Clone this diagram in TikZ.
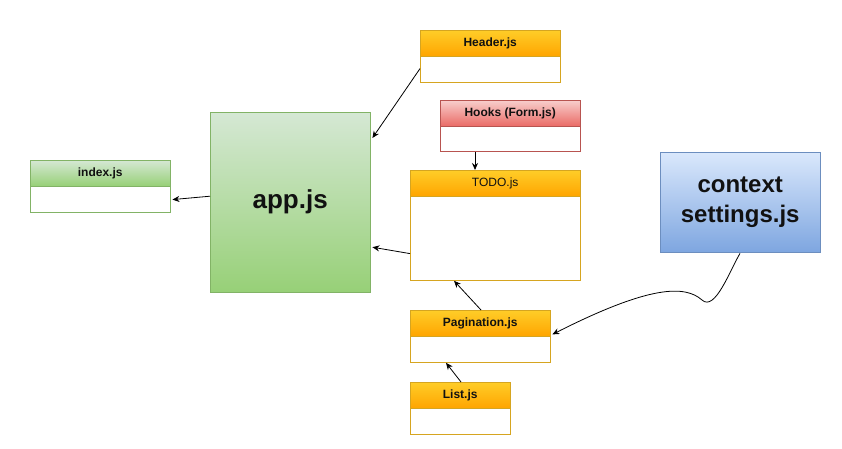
\documentclass[tikz,border=0pt]{standalone}
\usepackage{fontspec}
\setmainfont{Liberation Sans}
\usetikzlibrary{arrows.meta,calc}
\definecolor{grnTop}{HTML}{D5E8D4}
\definecolor{grnBot}{HTML}{97D077}
\definecolor{grnLine}{HTML}{82B366}
\definecolor{orTop}{HTML}{FFCD28}
\definecolor{orBot}{HTML}{FFA500}
\definecolor{orLine}{HTML}{D6A520}
\definecolor{redTop}{HTML}{F8CECC}
\definecolor{redBot}{HTML}{EA6B66}
\definecolor{redLine}{HTML}{B85450}
\definecolor{bluTop}{HTML}{DAE8FC}
\definecolor{bluBot}{HTML}{7EA6E0}
\definecolor{bluLine}{HTML}{6C8EBF}
\definecolor{ink}{HTML}{111111}
\tikzset{
  hdr/.style={anchor=north west, minimum height=26pt, inner sep=0pt,
    font=\fontsize{12}{14}\selectfont\bfseries, text=ink, draw},
  body/.style={anchor=north west, minimum height=#1, inner sep=0pt, draw, fill=white},
  green hdr/.style={hdr, draw=grnLine, top color=grnTop, bottom color=grnBot},
  orange hdr/.style={hdr, draw=orLine, top color=orTop, bottom color=orBot},
  red hdr/.style={hdr, draw=redLine, top color=redTop, bottom color=redBot},
  link/.style={draw=black, line width=0.8pt, -{Stealth[length=7pt,width=6pt]}}
}
\begin{document}
\begin{tikzpicture}[x=1pt,y=-1pt]
\useasboundingbox (0,0) rectangle (842,449);
\fill[white] (0,0) rectangle (842,449);

% index.js
\node[green hdr, minimum width=140pt] (idxh) at (30,160) {index.js};
\node[body=26pt, draw=grnLine, minimum width=140pt] (idxb) at (idxh.south west) {};

% app.js
\node[anchor=north west, minimum width=160pt, minimum height=180pt, draw=grnLine,
  top color=grnTop, bottom color=grnBot, text=ink,
  font=\fontsize{26}{30}\selectfont\bfseries] (app) at (210,112) {app.js};

% Header.js
\node[orange hdr, minimum width=140pt] (hdrh) at (420,30) {Header.js};
\node[body=26pt, draw=orLine, minimum width=140pt] (hdrb) at (hdrh.south west) {};

% Hooks (Form.js)
\node[red hdr, minimum width=140pt] (hookh) at (440,100) {Hooks (Form.js)};
\node[body=25pt, draw=redLine, minimum width=140pt] (hookb) at (hookh.south west) {};

% TODO.js
\node[orange hdr, minimum width=170pt, font=\fontsize{12}{14}\selectfont] (todoh) at (410,170) {TODO.js};
\node[body=84pt, draw=orLine, minimum width=170pt] (todob) at (todoh.south west) {};

% Pagination.js
\node[orange hdr, minimum width=140pt] (pagh) at (410,310) {Pagination.js};
\node[body=26pt, draw=orLine, minimum width=140pt] (pagb) at (pagh.south west) {};

% List.js
\node[orange hdr, minimum width=100pt] (listh) at (410,382) {List.js};
\node[body=26pt, draw=orLine, minimum width=100pt] (listb) at (listh.south west) {};

% context settings.js
\node[anchor=north west, minimum width=160pt, minimum height=100pt, draw=bluLine,
  top color=bluTop, bottom color=bluBot, text=ink, align=center,
  font=\fontsize{24}{30}\selectfont\bfseries] (ctx) at (660,152) {context\\settings.js};

% connectors
\draw[link] ($(app.west)+(0,-6)$) -- ($(idxb.east)+(2,0)$);
\draw[link] ($(hdrb.west)+(0,-1)$) -- ($(app.north east)+(2,26)$);
\draw[link] ($(hookb.south west)+(35,0)$) -- ($(todoh.north west)+(65,0)$);
\draw[link] ($(todob.west)+(0,15)$) -- ($(app.east)+(2,45)$);
\draw[link] ($(pagh.north west)+(71,0)$) -- ($(todob.south west)+(44,0)$);
\draw[link] ($(listh.north west)+(51,0)$) -- ($(pagb.south west)+(36,0)$);
\draw[link] ($(ctx.south west)+(80,1)$)
  .. controls (730,270) and (715,312) .. (702,300)
  .. controls (685,285) and (650,285) .. ($(pagb.north east)+(2,-2)$);
\end{tikzpicture}
\end{document}
